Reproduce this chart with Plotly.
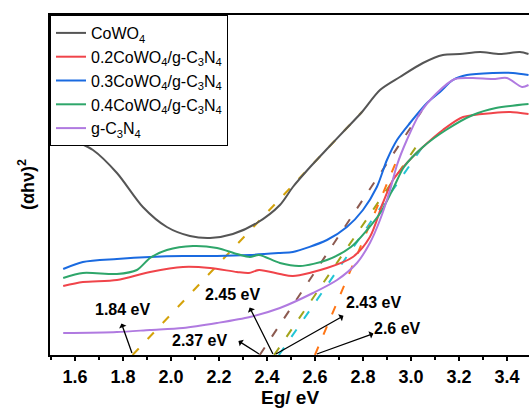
import plotly.graph_objects as go

# ---------------- data ----------------
names = ["CoWO<sub>4</sub>",
         "0.2CoWO<sub>4</sub>/g-C<sub>3</sub>N<sub>4</sub>",
         "0.3CoWO<sub>4</sub>/g-C<sub>3</sub>N<sub>4</sub>",
         "0.4CoWO<sub>4</sub>/g-C<sub>3</sub>N<sub>4</sub>",
         "g-C<sub>3</sub>N<sub>4</sub>"]
colors = ["#555555", "#f0444a", "#1a6ae0", "#2ea66a", "#b07ae0"]

E_cowo4 = [1.56, 1.60, 1.675, 1.775, 1.883, 1.983, 2.079, 2.163, 2.258, 2.358, 2.454,
           2.508, 2.58, 2.65, 2.733, 2.796, 2.871, 2.954, 3.05, 3.133, 3.204, 3.288,
           3.371, 3.454, 3.49]
h_cowo4 = [218, 214, 205, 182, 148, 128, 119, 117, 121, 132, 150,
           168, 188, 206, 227, 243, 265, 278, 292, 300, 301, 303,
           301, 303, 301]

E_02 = [1.551, 1.633, 1.775, 1.913, 2.05, 2.163, 2.275, 2.325, 2.367, 2.454, 2.508,
        2.65, 2.758, 2.829, 2.883, 2.925, 2.983, 3.05, 3.133, 3.217, 3.342, 3.413, 3.49]
h_02 = [69, 73, 75, 83, 88, 87, 83, 82, 85, 81, 79,
        87, 98, 118, 152, 175, 192, 208, 225, 238, 242, 243, 241]

E_03 = [1.551, 1.633, 1.775, 1.913, 2.05, 2.192, 2.329, 2.454, 2.508, 2.65, 2.733,
        2.8, 2.858, 2.9, 2.942, 2.996, 3.067, 3.121, 3.175, 3.233, 3.342, 3.425, 3.49]
h_03 = [86, 93, 96, 98, 99, 99, 100, 102, 103, 115, 128,
        145, 168, 195, 215, 232, 252, 263, 275, 280, 282, 282, 280]

E_04 = [1.551, 1.633, 1.775, 1.858, 1.913, 1.983, 2.092, 2.192, 2.275, 2.329, 2.367,
        2.454, 2.538, 2.65, 2.75, 2.817, 2.875, 2.929, 2.971, 3.05, 3.146, 3.258,
        3.354, 3.49]
h_04 = [77, 82, 81, 85, 97, 105, 109, 107, 101, 98, 100,
        92, 89, 95, 108, 125, 143, 168, 188, 208, 225, 240,
        247, 251]

E_gcn = [1.551, 1.775, 1.913, 2.05, 2.192, 2.329, 2.454, 2.592, 2.692, 2.775, 2.829,
         2.871, 2.913, 2.942, 2.983, 3.038, 3.108, 3.183, 3.258, 3.342, 3.40, 3.463, 3.49]
h_gcn = [22, 23, 25, 27, 32, 38, 47, 62, 75, 92, 112,
         135, 165, 190, 215, 242, 262, 276, 277, 276, 277, 268, 270]

series_E = [E_cowo4, E_02, E_03, E_04, E_gcn]
series_h = [h_cowo4, h_02, h_03, h_04, h_gcn]

# tangent (Tauc) lines: intercept energy, end energy, end height
tan_E0 = [1.84, 2.37, 2.43, 2.45, 2.60]
tan_E1 = [2.796, 3.045, 3.035, 3.045, 2.954]
tan_h1 = [243, 244, 213, 207, 202]
tan_colors = ["#d4a20a", "#8c5a50", "#a3a31a", "#22c5d5", "#ff7514"]

# gap labels
gap_text = ["1.84 eV", "2.37 eV", "2.45 eV", "2.43 eV", "2.6 eV"]
gap_text_E = [1.80, 2.121, 2.258, 2.842, 2.946]
gap_text_h = [46, 15, 61, 53, 27]
arrow_tail_E = [1.8375, 2.367, 2.425, 2.4375, 2.608]
arrow_tail_h = [2, 1, 1, 1, 1]
arrow_head_E = [1.7917, 2.275, 2.325, 2.725, 2.85]
arrow_head_h = [33, 15, 49, 40, 22]

tick_vals = [1.6, 1.8, 2.0, 2.2, 2.4, 2.6, 2.8, 3.0, 3.2, 3.4]
tick_text = ["1.6", "1.8", "2.0", "2.2", "2.4", "2.6", "2.8", "3.0", "3.2", "3.4"]

# ---------------- figure ----------------
fig = go.Figure()

for E0, E1, h1, c in zip(tan_E0, tan_E1, tan_h1, tan_colors):
    fig.add_trace(go.Scatter(x=[E0, E1], y=[0, h1], mode="lines",
                             line=dict(color=c, width=2, dash="9px,13px"),
                             showlegend=False, hoverinfo="skip"))

for nm, E, h, c in zip(names, series_E, series_h, colors):
    fig.add_trace(go.Scatter(x=E, y=h, mode="lines", name=nm,
                             line=dict(color=c, width=2, shape="spline", smoothing=0.8)))

annotations = []
for i in range(len(gap_text)):
    annotations.append(dict(x=arrow_tail_E[i], y=arrow_tail_h[i], xref="x", yref="y",
                            ax=arrow_head_E[i], ay=arrow_head_h[i], axref="x", ayref="y",
                            text="", showarrow=True, arrowhead=2, arrowsize=1.4,
                            arrowwidth=1.3, arrowcolor="black", arrowside="start",
                            standoff=0, startstandoff=0))
    annotations.append(dict(x=gap_text_E[i], y=gap_text_h[i], xref="x", yref="y",
                            text="<b>%s</b>" % gap_text[i], showarrow=False,
                            font=dict(family="Arial, Liberation Sans", size=16, color="black")))

annotations.append(dict(x=-0.05, y=0.5, xref="paper", yref="paper", textangle=-90,
                        xanchor="center", yanchor="middle",
                        text="<b>(αhν)<sup>2</sup></b>", showarrow=False,
                        font=dict(family="Arial, Liberation Sans", size=18, color="black")))
annotations.append(dict(x=0.5, y=-0.124, xref="paper", yref="paper",
                        xanchor="center", yanchor="middle",
                        text="<b>Eg/ eV</b>", showarrow=False,
                        font=dict(family="Arial, Liberation Sans", size=19, color="black")))

fig.update_layout(
    width=529, height=410,
    margin=dict(l=50, r=0, t=15, b=55, autoexpand=False),
    paper_bgcolor="white", plot_bgcolor="white",
    font=dict(family="Arial, Liberation Sans", color="black"),
    showlegend=True,
    legend=dict(x=0, y=1, xanchor="left", yanchor="top",
                bordercolor="black", borderwidth=1, bgcolor="white",
                font=dict(size=16, family="Arial, Liberation Sans", color="black"),
                tracegroupgap=0, itemwidth=30),
    annotations=annotations,
)

fig.update_xaxes(range=[1.496, 3.492], showline=True, linewidth=2, linecolor="black",
                 mirror=True, ticks="outside", ticklen=4, tickwidth=2, tickcolor="black",
                 tickvals=tick_vals, ticktext=tick_text, showgrid=False, zeroline=False,
                 automargin=False,
                 tickfont=dict(size=18, family="Arial, Liberation Sans", color="black", weight="bold"),
                 minor=dict(dtick=0.1, tick0=1.5, ticks="outside", ticklen=3, tickwidth=1.5,
                            tickcolor="black", showgrid=False))
fig.update_yaxes(range=[0, 340], showline=True, linewidth=2, linecolor="black",
                 mirror=False, showticklabels=False, ticks="", showgrid=False, zeroline=False,
                 automargin=False)

fig.write_html("out.html", config={"displayModeBar": False},
               post_script="document.body.style.margin='0';document.body.style.overflow='hidden';")
